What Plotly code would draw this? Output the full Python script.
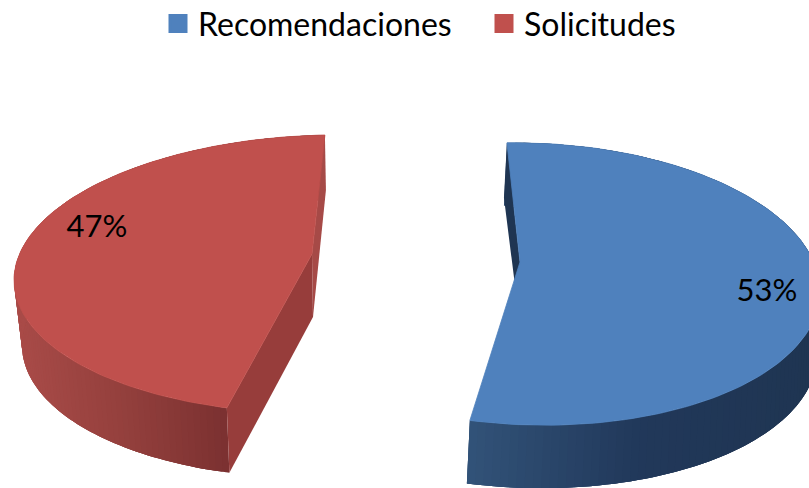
import numpy as np
import plotly.graph_objects as go

categories = ["Recomendaciones", "Solicitudes"]
values = [53, 47]
top_colors = ["#4F81BD", "#C0504D"]

FONT = "Lato, Carlito, Calibri, sans-serif"
W, H = 809, 488

# Projection of each exploded slice onto the picture
geometry = {
    "Recomendaciones": dict(cx=530, cy=284, a=290, b=141, tilt=0.025, start=-4.56, warp=1.03,
                            apex=(520, 262), wall=(-3, 63, 0), label=(767, 293),
                            apex_low=(520, 325), back_wall="#1F3552",
                            stops=[(467, "#325379"), (640, "#21385A"), (809, "#1F3552")]),
    "Solicitudes": dict(cx=325, cy=274, a=311, b=139, tilt=-0.02, start=198.4, warp=0.955,
                        apex=(312, 254), wall=(0, 65, -8), label=(97, 229),
                        apex_low=(313, 317), end_wall="#973D3B", back_wall="#A64A47",
                        stops=[(14, "#A94B48"), (120, "#94403D"), (231, "#7A3030")]),
}


def arc(g, deg, dx=0.0, dy=0.0, da=0.0):
    t = np.radians(deg)
    x = g["cx"] + (g["a"] + da) * np.sin(t)
    y = g["cy"] - g["b"] * np.cos(t) + g["tilt"] * (x - g["cx"])
    return x + dx, y + dy


def hex2rgb(h):
    return np.array([int(h[i:i + 2], 16) for i in (1, 3, 5)], float)


def shade(stops, x):
    xs = [s[0] for s in stops]
    cols = np.array([hex2rgb(s[1]) for s in stops])
    c = [np.interp(x, xs, cols[:, k]) for k in range(3)]
    return "rgb(%d,%d,%d)" % tuple(int(round(v)) for v in c)


def poly(xs, ys, color, edge=False):
    return go.Scatter(x=list(xs), y=list(ys), mode="lines" if edge else "none", fill="toself",
                      fillcolor=color, line=dict(color=color, width=0.8),
                      showlegend=False, hoverinfo="skip")


fig = go.Figure()
total = sum(values)

for name, value, color in zip(categories[::-1], values[::-1], top_colors[::-1]):
    g = geometry[name]
    sweep = value / total * 360 * g["warp"]
    deg = np.linspace(g["start"], g["start"] + sweep, 121)
    dxw, dyw, daw = g["wall"]

    # outer wall: overlapping strips so that the shading runs across it without seams
    tx, ty = arc(g, deg)
    bx, by = arc(g, deg, dxw, dyw, daw)
    n = len(deg)
    for i in range(n - 1):
        j = min(i + 3, n - 1)
        fig.add_trace(poly([*tx[i:j + 1], *bx[i:j + 1][::-1]],
                           [*ty[i:j + 1], *by[i:j + 1][::-1]],
                           shade(g["stops"], (tx[i] + tx[i + 1]) / 2)))

    # inner walls at the two cut edges
    ax, ay = g["apex"]
    lx, ly = g["apex_low"]
    if name == "Solicitudes":
        fig.add_trace(poly([tx[-1], bx[-1] + 1, lx, ax], [ty[-1], by[-1] - 10, ly, ay], g["back_wall"]))
        fig.add_trace(poly([ax, lx, bx[0], tx[0]], [ay, ly, by[0], ty[0]], g["end_wall"]))
    else:
        fig.add_trace(poly([tx[0], bx[0], lx, ax], [ty[0], by[0] - 8, ly, ay], g["back_wall"]))

    # top face
    fig.add_trace(poly([ax, *tx, ax], [ay, *ty, ay], color, edge=True))

    # percentage label
    fig.add_trace(go.Scatter(x=[g["label"][0]], y=[g["label"][1]], mode="text",
                             text=["%d%%" % round(100 * value / total)],
                             textfont=dict(family=FONT, size=31, color="#000000"),
                             textposition="middle center", showlegend=False, hoverinfo="skip"))

# legend entries
for name, color in zip(categories, top_colors):
    fig.add_trace(go.Scatter(x=[None], y=[None], mode="markers", name=name,
                             marker=dict(symbol="square", size=16, color=color,
                                         line=dict(color=color, width=3))))

fig.update_layout(
    width=W, height=H, margin=dict(l=0, r=0, t=0, b=0, autoexpand=False),
    paper_bgcolor="white", plot_bgcolor="white",
    xaxis=dict(visible=False, range=[0, W], fixedrange=True),
    yaxis=dict(visible=False, range=[H, 0], fixedrange=True),
    legend=dict(orientation="h", x=158 / W, y=1.008, xanchor="left", yanchor="top",
                font=dict(family=FONT, size=32, color="#000000"),
                entrywidth=281, entrywidthmode="pixels",
                bgcolor="rgba(0,0,0,0)", traceorder="normal", itemsizing="trace"),
)
fig.write_html("out.html", config=dict(displayModeBar=False),
               post_script="document.body.style.margin='0';document.body.style.overflow='hidden';")
